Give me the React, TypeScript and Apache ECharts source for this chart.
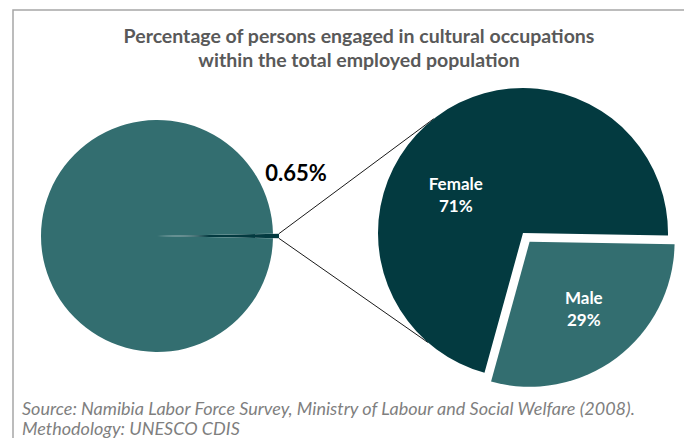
import React, { useEffect, useRef } from "react";
import * as echarts from "echarts";

const titleLines = [
  "Percentage of persons engaged in cultural occupations",
  "within the total employed population",
];
const sourceLines = [
  "Source: Namibia Labor Force Survey, Ministry of Labour and Social Welfare (2008).",
  "Methodology: UNESCO CDIS",
];
const overallCategories = ["Cultural occupations", "Other occupations"];
const overallValues = [0.65, 99.35];
const genderCategories = ["Male", "Female"];
const genderValues = [29, 71];

const TEAL = "#336e70";
const DARK = "#033a40";

export default function App() {
  const ref = useRef<HTMLDivElement>(null);
  useEffect(() => {
    if (!ref.current) return;
    const chart = echarts.init(ref.current, null, { renderer: "svg" });

    const c1 = [157, 236];
    const r1 = 116;
    const off1 = 6;
    const c2 = [523, 233];
    const r2 = 145;

    const half = (overallValues[0] / (overallValues[0] + overallValues[1])) * 180;
    const rad = (d: number) => (d * Math.PI) / 180;
    const tipUp = [c1[0] + off1 + r1 * Math.cos(rad(half)), c1[1] - r1 * Math.sin(rad(half))];
    const tipDn = [c1[0] + off1 + r1 * Math.cos(rad(half)), c1[1] + r1 * Math.sin(rad(half))];
    const endUp = [c2[0] + r2 * Math.cos(rad(232)), c2[1] + r2 * Math.sin(rad(232))];
    const endDn = [c2[0] + r2 * Math.cos(rad(131)), c2[1] + r2 * Math.sin(rad(131))];

    const font = "Lato, 'Open Sans', sans-serif";

    chart.setOption({
      animation: false,
      backgroundColor: "#ffffff",
      graphic: [
        {
          type: "rect",
          z: 0,
          shape: { x: 13, y: 10, width: 720, height: 500 },
          style: { fill: "none", stroke: "#a6a6a6", lineWidth: 1.5 },
        },
        {
          type: "text",
          x: 359,
          y: 23,
          style: {
            text: titleLines.join("\n"),
            fill: "#595959",
            font: `bold 19.5px ${font}`,
            textAlign: "center",
            lineHeight: 24,
          },
        },
        {
          type: "text",
          x: 22,
          y: 398,
          style: {
            text: sourceLines.join("\n"),
            fill: "#7f7f7f",
            font: `italic 18px ${font}`,
            textAlign: "left",
            lineHeight: 20,
          },
        },
        {
          type: "text",
          x: 296,
          y: 161,
          style: {
            text: overallValues[0].toFixed(2) + "%",
            fill: "#000000",
            font: `bold 22px ${font}`,
            textAlign: "center",
          },
        },
        {
          type: "line",
          z: 0,
          shape: { x1: tipUp[0], y1: tipUp[1], x2: endUp[0], y2: endUp[1] },
          style: { stroke: "#1a1a1a", lineWidth: 1 },
        },
        {
          type: "line",
          z: 0,
          shape: { x1: tipDn[0], y1: tipDn[1], x2: endDn[0], y2: endDn[1] },
          style: { stroke: "#1a1a1a", lineWidth: 1 },
        },
      ],
      series: [
        {
          type: "pie",
          z: 2,
          center: c1,
          radius: [0, r1],
          startAngle: half,
          clockwise: true,
          selectedMode: "multiple",
          selectedOffset: off1,
          label: { show: false },
          labelLine: { show: false },
          emphasis: { disabled: true },
          itemStyle: { borderWidth: 0 },
          data: overallCategories.map((n, i) => ({
            name: n,
            value: overallValues[i],
            selected: i === 0,
            itemStyle: { color: i === 0 ? DARK : TEAL },
          })),
        },
        {
          type: "pie",
          z: 2,
          center: c2,
          radius: [0, r2],
          startAngle: -1,
          clockwise: true,
          selectedMode: "multiple",
          selectedOffset: 11,
          emphasis: { disabled: true },
          itemStyle: { borderWidth: 0 },
          label: {
            show: true,
            position: "inside",
            color: "#ffffff",
            fontFamily: font,
            fontWeight: "bold",
            fontSize: 17,
            lineHeight: 22,
            formatter: (p: any) => `${p.name}\n${p.value}%`,
          },
          labelLine: { show: false },
          labelLayout: (p: any) =>
            p.dataIndex === 0 ? { dx: 9, dy: 6 } : { dx: -22, dy: 22 },
          data: genderCategories.map((n, i) => ({
            name: n,
            value: genderValues[i],
            selected: i === 0,
            itemStyle: { color: i === 0 ? TEAL : DARK },
          })),
        },
      ],
    });
    return () => chart.dispose();
  }, []);
  return (
    <div
      ref={ref}
      style={{ position: "absolute", left: 0, top: 0, width: 684, height: 438 }}
    />
  );
}
